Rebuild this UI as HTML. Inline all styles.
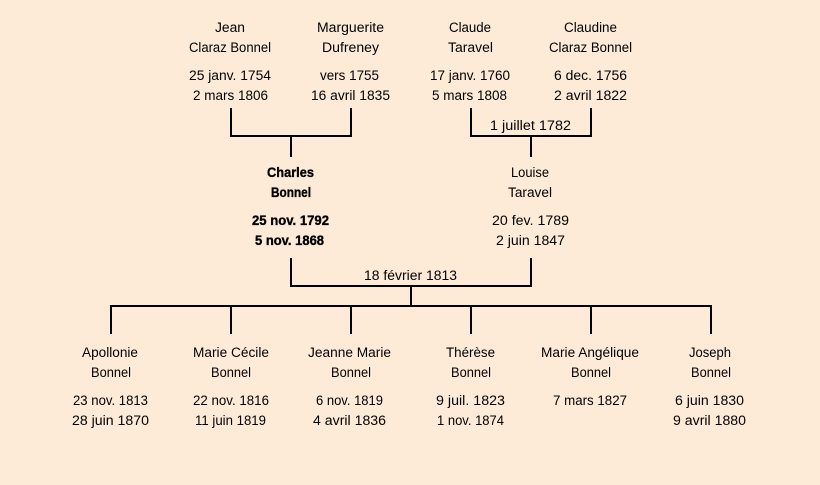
<!DOCTYPE html>
<html lang="fr">
<head>
<meta charset="utf-8">
<title>Famille Bonnel</title>
<style>
html,body{margin:0;padding:0;background:#fdebd8;width:820px;height:485px;overflow:hidden}
svg{display:block}
text{font-family:"Comic Sans MS","Liberation Sans",sans-serif;font-size:13.5px;fill:#000;text-anchor:middle}
.b{font-weight:bold;fill:#000;stroke:#000;stroke-width:.35px}
path{fill:none;stroke:#000;stroke-width:2}
</style>
</head>
<body>
<svg xmlns="http://www.w3.org/2000/svg" width="820" height="485" viewBox="0 0 820 485">
<rect width="820" height="485" fill="#fdebd8" style="stroke:none"/>
<path d="M231 108V136H351V108M291 136V157"/>
<path d="M471 108V136H591V108M531 136V157"/>
<path d="M291 258V286H531V258M411 286V306"/>
<path d="M111 334V306H711V334M231 306V334M351 306V334M471 306V334M591 306V334"/>

<text x="230" y="32" textLength="30" lengthAdjust="spacingAndGlyphs">Jean</text>
<text x="230" y="52" textLength="82" lengthAdjust="spacingAndGlyphs">Claraz Bonnel</text>
<text x="230" y="80" textLength="82" lengthAdjust="spacingAndGlyphs">25 janv. 1754</text>
<text x="230.500" y="100" textLength="75" lengthAdjust="spacingAndGlyphs">2 mars 1806</text>

<text x="350.500" y="32" textLength="67" lengthAdjust="spacingAndGlyphs">Marguerite</text>
<text x="350.500" y="52" textLength="57" lengthAdjust="spacingAndGlyphs">Dufreney</text>
<text x="349.500" y="80" textLength="59" lengthAdjust="spacingAndGlyphs">vers 1755</text>
<text x="350.500" y="100" textLength="79" lengthAdjust="spacingAndGlyphs">16 avril 1835</text>

<text x="470" y="32" textLength="42" lengthAdjust="spacingAndGlyphs">Claude</text>
<text x="470.500" y="52" textLength="45" lengthAdjust="spacingAndGlyphs">Taravel</text>
<text x="470" y="80" textLength="80" lengthAdjust="spacingAndGlyphs">17 janv. 1760</text>
<text x="469.500" y="100" textLength="75" lengthAdjust="spacingAndGlyphs">5 mars 1808</text>

<text x="590.500" y="32" textLength="53" lengthAdjust="spacingAndGlyphs">Claudine</text>
<text x="590.500" y="52" textLength="83" lengthAdjust="spacingAndGlyphs">Claraz Bonnel</text>
<text x="590.500" y="80" textLength="73" lengthAdjust="spacingAndGlyphs">6 dec. 1756</text>
<text x="590.500" y="100" textLength="73" lengthAdjust="spacingAndGlyphs">2 avril 1822</text>

<text x="530.500" y="130" textLength="81" lengthAdjust="spacingAndGlyphs">1 juillet 1782</text>

<text class="b" x="290.500" y="177" textLength="47" lengthAdjust="spacingAndGlyphs">Charles</text>
<text class="b" x="291" y="197" textLength="40" lengthAdjust="spacingAndGlyphs">Bonnel</text>
<text class="b" x="290.500" y="225" textLength="77" lengthAdjust="spacingAndGlyphs">25 nov. 1792</text>
<text class="b" x="289.500" y="245" textLength="69" lengthAdjust="spacingAndGlyphs">5 nov. 1868</text>

<text x="530" y="177" textLength="38" lengthAdjust="spacingAndGlyphs">Louise</text>
<text x="530" y="197" textLength="44" lengthAdjust="spacingAndGlyphs">Taravel</text>
<text x="530.500" y="225" textLength="77" lengthAdjust="spacingAndGlyphs">20 fev. 1789</text>
<text x="530.500" y="245" textLength="69" lengthAdjust="spacingAndGlyphs">2 juin 1847</text>

<text x="410.500" y="280" textLength="93" lengthAdjust="spacingAndGlyphs">18 février 1813</text>

<text x="110" y="357" textLength="56" lengthAdjust="spacingAndGlyphs">Apollonie</text>
<text x="111" y="377" textLength="40" lengthAdjust="spacingAndGlyphs">Bonnel</text>
<text x="110.500" y="405" textLength="75" lengthAdjust="spacingAndGlyphs">23 nov. 1813</text>
<text x="110.500" y="425" textLength="77" lengthAdjust="spacingAndGlyphs">28 juin 1870</text>

<text x="231" y="357" textLength="76" lengthAdjust="spacingAndGlyphs">Marie Cécile</text>
<text x="231" y="377" textLength="40" lengthAdjust="spacingAndGlyphs">Bonnel</text>
<text x="231" y="405" textLength="76" lengthAdjust="spacingAndGlyphs">22 nov. 1816</text>
<text x="230.500" y="425" textLength="71" lengthAdjust="spacingAndGlyphs">11 juin 1819</text>

<text x="349.500" y="357" textLength="83" lengthAdjust="spacingAndGlyphs">Jeanne Marie</text>
<text x="351" y="377" textLength="40" lengthAdjust="spacingAndGlyphs">Bonnel</text>
<text x="349.500" y="405" textLength="67" lengthAdjust="spacingAndGlyphs">6 nov. 1819</text>
<text x="349.500" y="425" textLength="73" lengthAdjust="spacingAndGlyphs">4 avril 1836</text>

<text x="470.500" y="357" textLength="49" lengthAdjust="spacingAndGlyphs">Thérèse</text>
<text x="471" y="377" textLength="40" lengthAdjust="spacingAndGlyphs">Bonnel</text>
<text x="470.500" y="405" textLength="69" lengthAdjust="spacingAndGlyphs">9 juil. 1823</text>
<text x="470.500" y="425" textLength="67" lengthAdjust="spacingAndGlyphs">1 nov. 1874</text>

<text x="590" y="357" textLength="98" lengthAdjust="spacingAndGlyphs">Marie Angélique</text>
<text x="591" y="377" textLength="40" lengthAdjust="spacingAndGlyphs">Bonnel</text>
<text x="590" y="405" textLength="74" lengthAdjust="spacingAndGlyphs">7 mars 1827</text>

<text x="710" y="357" textLength="42" lengthAdjust="spacingAndGlyphs">Joseph</text>
<text x="711" y="377" textLength="40" lengthAdjust="spacingAndGlyphs">Bonnel</text>
<text x="709.500" y="405" textLength="69" lengthAdjust="spacingAndGlyphs">6 juin 1830</text>
<text x="709.500" y="425" textLength="73" lengthAdjust="spacingAndGlyphs">9 avril 1880</text>
</svg>
</body>
</html>
